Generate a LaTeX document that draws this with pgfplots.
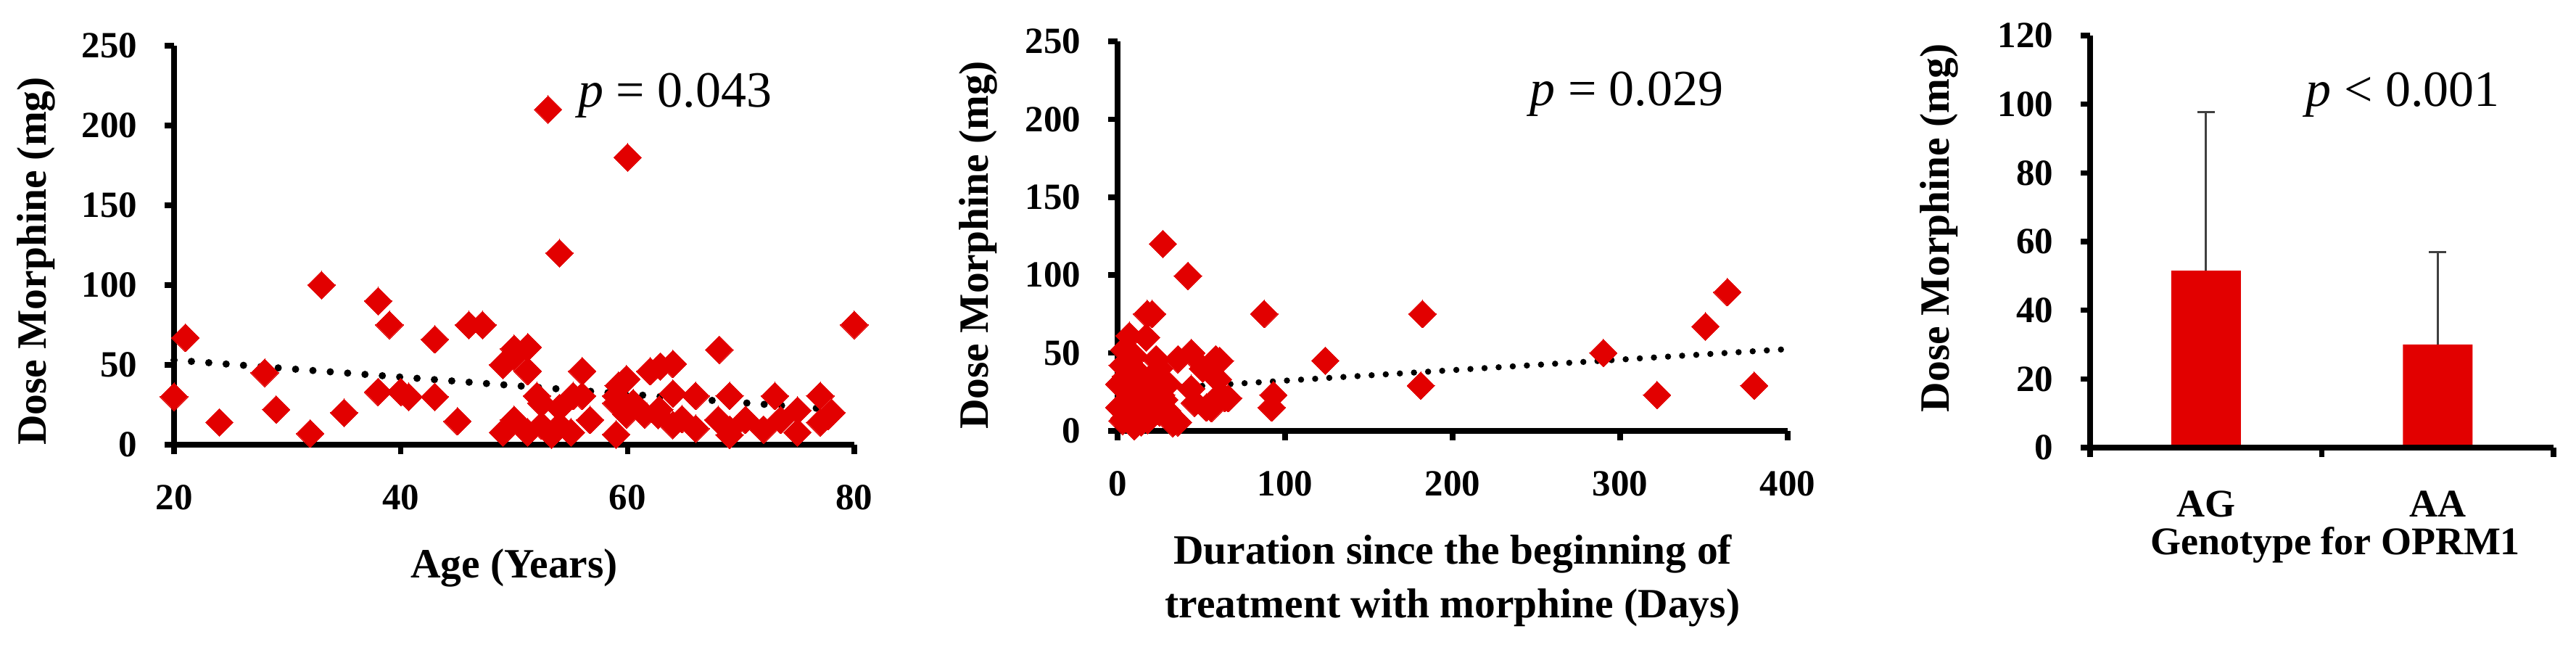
\documentclass[border=0pt]{standalone}
\usepackage{fontspec}
\setmainfont{Liberation Serif}
\usepackage{pgfplots}
\pgfplotsset{compat=1.18}
\definecolor{dred}{RGB}{226,0,0}
\pgfplotsset{
  myax/.style={
    scale only axis,
    axis x line*=bottom, axis y line*=left,
    axis line style={line width=1.7pt, -},
    tick style={line width=1.5pt, black},
    tick align=outside,
    major tick length=2.6pt,
    minor tick num=0,
    clip=false, axis on top,
    /pgf/number format/assume math mode=true,
    tick label style={font=\fontsize{10.2}{12}\selectfont\bfseries},
    label style={font=\fontsize{11.5}{14.8}\selectfont\bfseries},
    xticklabel style={yshift=-5pt},
    yticklabel style={xshift=-4pt},
  },
  pts/.style={only marks, mark=square*, mark size=2.7pt,
    mark options={rotate=45, draw=dred, fill=dred, line width=0pt}},
}
\begin{document}
\begin{tikzpicture}
\path[use as bounding box] (0pt,0pt) rectangle (710.4pt,179.2pt);

% ---------------- Panel 1 ----------------
\begin{axis}[myax, at={(48pt,56.6pt)}, anchor=south west,
  width=187.6pt, height=110pt,
  xmin=20, xmax=80, xtick={20,40,60,80},
  ymin=0, ymax=250, ytick={0,50,...,250},
  xlabel={Age (Years)},
  xlabel style={at={(axis description cs:0.5,-0.3345)}, anchor=base},
  ylabel={Dose Morphine (mg)},
  ylabel style={at={(axis description cs:-0.2026,0.46)}, anchor=center},
]
\addplot[pts] coordinates {
(20,30) (21,67) (24,14) (28,45) (29,22) (32,7) (33,100) (35,20) (38,90) (38,33)
(39,75) (40,33) (40.7,30) (43,66) (43,30) (45,14.6) (46,75) (47.2,75) (49,50) (49,7.7)
(50,60) (51.2,61) (50,55) (51.2,46) (50,15.5) (51.2,7.7) (52,30.5) (52.4,26) (52.4,12) (53.3,6.4)
(53,210) (54,23) (54,12) (54,120) (55.2,30.5) (55,7.7) (56,46) (56,30.5) (56.7,15.5) (59,6.4)
(59.7,39.5) (59,30.5) (59.9,19) (60,180) (59.2,37) (59,26) (60.5,26) (61.5,19) (59.9,41) (62,46)
(62.9,49) (64,50.5) (62.8,22) (62.7,18.6) (64,32) (64,12.3) (64.8,16) (66,30.5) (66,10) (68.1,59.5)
(68,15.5) (69,30.5) (69,9.5) (69,6) (70.4,15.5) (72,9.5) (73,30.5) (73.5,15.5) (75,21.4) (75,7.7)
(77,30.5) (77,14) (77.7,18) (78,20) (80,75)
};
\addplot[black, line width=2pt, line cap=round, dash pattern=on 0pt off 4.8pt]
  coordinates {(20,53) (79,21.6)};
\node[font=\fontsize{14}{16}\selectfont, anchor=base] at (axis cs:64.2,211.8) {\textit{p} = 0.043};
\end{axis}

% ---------------- Panel 2 ----------------
\begin{axis}[myax, at={(308.2pt,60.4pt)}, anchor=south west,
  width=184.8pt, height=107.4pt,
  xmin=0, xmax=400, xtick={0,100,...,400},
  ymin=0, ymax=250, ytick={0,50,...,250},
  xlabel={Duration since the beginning of\\treatment with morphine (Days)},
  xlabel style={at={(axis description cs:0.5,-0.4786)}, anchor=base, align=center},
  ylabel={Dose Morphine (mg)},
  ylabel style={at={(axis description cs:-0.208,0.477)}, anchor=center},
]
\addplot[pts] coordinates {
(27,120) (42,99.5) (17.7,75) (20.6,75) (87.5,75) (182,75) (364,89) (351,67) (290,50) (322,23)
(380,29) (181,29) (124,45) (93,23) (92,15) (7,61) (17,60) (4,52) (44,50) (36,46)
(58.6,46) (23,46) (51,40) (25,40) (3,42) (10,48) (1,30) (19,30) (60,33) (44,27)
(60,22) (64,21) (53,15) (46,18) (1,15) (9,17) (20,15) (31,8) (36,5.5) (14,5.5)
(3,6.5) (7,20) (28,20) (16,25) (26,23) (8,12) (18,7) (25,12) (29.6,13) (33,5)
(56,14.6) (66,21) (61,45) (5,35) (12,38) (14,28) (22,35) (30,30) (4,8) (10,3)
};
\addplot[black, line width=1.7pt, line cap=round, dash pattern=on 0pt off 3.9pt]
  coordinates {(0,25.5) (397,52.3)};
\node[font=\fontsize{14}{16}\selectfont, anchor=base] at (axis cs:303.9,208.6) {\textit{p} = 0.029};
\end{axis}

% ---------------- Panel 3 ----------------
\begin{axis}[myax, at={(576.4pt,55.8pt)}, anchor=south west,
  width=127.8pt, height=113.6pt,
  xmin=0, xmax=2, xtick={0,1,2}, xticklabels={,,},
  extra x ticks={0.5,1.5}, extra x tick labels={AG,AA},
  extra x tick style={major tick length=0pt,
    tick label style={font=\fontsize{10.8}{12}\selectfont\bfseries, yshift=-3.5pt}},
  ymin=0, ymax=120, ytick={0,20,...,120},
  xlabel={Genotype for OPRM1},
  xlabel style={at={(axis description cs:0.529,-0.259)}, anchor=base,
    font=\fontsize{10.8}{12}\selectfont\bfseries},
  ylabel={Dose Morphine (mg)},
  ylabel style={at={(axis description cs:-0.326,0.533)}, anchor=center},
]
\addplot[ybar, bar width=19.2pt, fill=dred, draw=none,
  error bars/.cd, y dir=plus, y explicit,
  error bar style={line width=0.6pt, black!75},
  error mark options={rotate=90, mark size=2.4pt, line width=0.6pt, black!75}]
  coordinates {(0.5,51.5) +- (0,46.3) (1.5,30) +- (0,27)};
\node[font=\fontsize{14}{16}\selectfont, anchor=base] at (axis cs:1.35,99.5) {\textit{p} < 0.001};
\end{axis}
\end{tikzpicture}
\end{document}
